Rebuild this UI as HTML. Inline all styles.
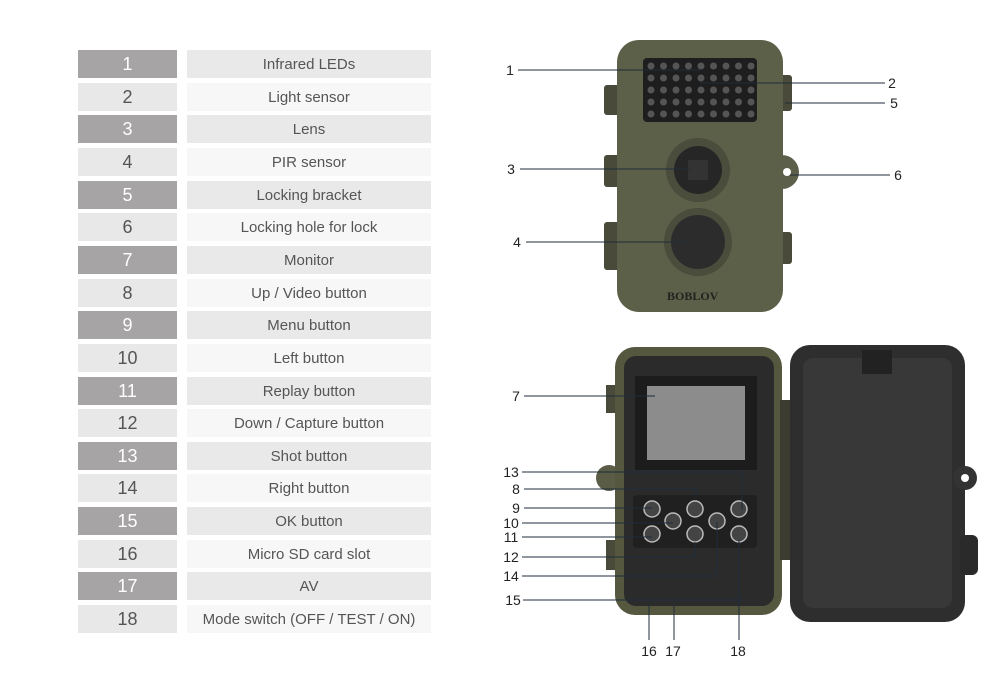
<!DOCTYPE html>
<html><head><meta charset="utf-8"><style>
body{margin:0;width:1000px;height:680px;background:#fff;position:relative;overflow:hidden;font-family:"Liberation Sans",sans-serif}
.n,.l{position:absolute;height:28px;line-height:30px;text-align:center;color:#555}
.n{left:78px;width:99px;font-size:18px;line-height:28px}
.l{left:187px;width:244px;font-size:15px}
.d{background:#a6a4a5;color:#fff}
.dl{background:#e9e9e9}
.ln{background:#e8e8e8}
.ll{background:#f7f7f7}
svg{position:absolute;left:0;top:0}
</style></head><body>
<div id="t"></div>
<script>
var L=["Infrared LEDs","Light sensor","Lens","PIR sensor","Locking bracket","Locking hole for lock","Monitor","Up / Video button","Menu button","Left button","Replay button","Down / Capture button","Shot button","Right button","OK button","Micro SD card slot","AV","Mode switch (OFF / TEST / ON)"];
var h="";for(var i=0;i<18;i++){var y=Math.round(50+i*32.65);var o=i%2==0;
h+='<div class="n '+(o?'d':'ln')+'" style="top:'+y+'px">'+(i+1)+'</div><div class="l '+(o?'dl':'ll')+'" style="top:'+y+'px">'+L[i]+'</div>';}
document.getElementById('t').innerHTML=h;
var d="";for(var r=0;r<5;r++)for(var c=0;c<9;c++){d+='<circle cx="'+(651+c*12.5)+'" cy="'+(66+r*12)+'" r="3.5" fill="#555"/>';}
window.onload=function(){document.getElementById('leds').innerHTML=d;};
document.addEventListener('DOMContentLoaded',function(){document.getElementById('leds').innerHTML=d;});
</script>
<svg width="1000" height="680" font-family="Liberation Sans,sans-serif" font-size="14" fill="#222">
<rect x="604" y="85" width="16" height="30" rx="3" fill="#4a4a3a"/>
<rect x="604" y="155" width="16" height="32" rx="3" fill="#4a4a3a"/>
<rect x="604" y="222" width="16" height="48" rx="3" fill="#4a4a3a"/>
<rect x="780" y="75" width="12" height="36" rx="3" fill="#4a4a3a"/>
<rect x="780" y="232" width="12" height="32" rx="3" fill="#4a4a3a"/>
<path d="M782 155 a17 17 0 0 1 0 34z" fill="#5c604a"/>
<rect x="617" y="40" width="166" height="272" rx="22" fill="#5d6049"/>
<rect x="643" y="58" width="114" height="64" rx="4" fill="#1e1e1e"/>
<g id="leds"></g>
<circle cx="698" cy="170" r="32" fill="#4a4c3c"/><circle cx="698" cy="170" r="24" fill="#262626"/><rect x="688" y="160" width="20" height="20" fill="#333"/>
<circle cx="698" cy="242" r="34" fill="#4a4c3c"/><circle cx="698" cy="242" r="27" fill="#2c2c2c"/>
<circle cx="787" cy="172" r="4" fill="#fff"/>
<text x="667" y="300" font-size="12" font-weight="bold" fill="#222" font-family="Liberation Serif,serif">BOBLOV</text>
<rect x="606" y="385" width="12" height="28" fill="#4a4a3a"/><rect x="606" y="540" width="12" height="30" fill="#4a4a3a"/>
<circle cx="609" cy="478" r="13" fill="#5a5c46"/>
<rect x="615" y="347" width="167" height="268" rx="20" fill="#55573f"/>
<rect x="624" y="356" width="150" height="250" rx="12" fill="#2b2b2b"/>
<rect x="635" y="376" width="122" height="94" fill="#1c1c1c"/>
<rect x="647" y="386" width="98" height="74" fill="#8c8c8c"/>
<rect x="633" y="495" width="124" height="53" rx="4" fill="#202020"/>
<g fill="#444" stroke="#bbb" stroke-width="1.5"><circle cx="652" cy="509" r="8"/><circle cx="673" cy="521" r="8"/><circle cx="652" cy="534" r="8"/><circle cx="695" cy="509" r="8"/><circle cx="695" cy="534" r="8"/><circle cx="717" cy="521" r="8"/><circle cx="739" cy="509" r="8"/><circle cx="739" cy="534" r="8"/></g>
<rect x="780" y="400" width="16" height="160" fill="#3c3d30"/>
<rect x="790" y="345" width="175" height="277" rx="20" fill="#2e2e2e"/>
<rect x="803" y="358" width="149" height="250" rx="10" fill="#383838"/>
<rect x="862" y="350" width="30" height="24" fill="#222"/>
<circle cx="965" cy="478" r="12" fill="#333"/><circle cx="965" cy="478" r="4" fill="#fff"/>
<rect x="960" y="535" width="18" height="40" rx="6" fill="#2a2a2a"/>
<g stroke="#1f2d3b" stroke-width="1" fill="none">
<path d="M518 70H700M700 83H885M785 103H885M520 169H690M790 175H890M526 242H690"/>
<path d="M524 396H655M522 472H742V510M524 489H696V497M524 508H652M522 523H673M522 537H652M522 557H695V542M522 576H717V522M523 600H742M649 605V640M674 605V640M739 540V640"/>
</g>
<g text-anchor="middle">
<text x="510" y="75">1</text><text x="892" y="88">2</text><text x="894" y="108">5</text>
<text x="511" y="174">3</text><text x="898" y="180">6</text><text x="517" y="247">4</text>
<text x="516" y="401">7</text><text x="511" y="477">13</text><text x="516" y="494">8</text>
<text x="516" y="513">9</text><text x="511" y="528">10</text><text x="511" y="542">11</text>
<text x="511" y="562">12</text><text x="511" y="581">14</text><text x="513" y="605">15</text>
<text x="649" y="656">16</text><text x="673" y="656">17</text><text x="738" y="656">18</text>
</g>
</svg>
</body></html>
